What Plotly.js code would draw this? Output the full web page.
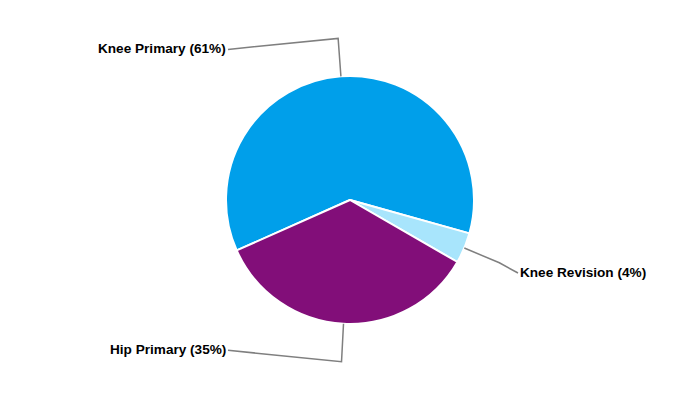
<!DOCTYPE html>
<html><head><meta charset="utf-8">
<script src="https://cdn.plot.ly/plotly-3.0.1.min.js"></script>
<style>html,body{margin:0;padding:0;background:#fff}#chart{width:700px;height:400px}</style>
</head><body><div id="chart"></div>
<script>
// ---- data ----
const categories = ['Knee Primary', 'Knee Revision', 'Hip Primary'];
const shares = [61, 4, 35];
const colors = ['#009fea', '#a8e5fc', '#820e79'];

// ---- layout constants ----
const W = 700, H = 400;
const CX = 350, CY = 200, R = 124;
const ROTATION = 246;          // degrees clockwise from 12 o'clock, start of first slice
const KNEE = 38;               // connector knee distance beyond the rim
const LABEL_R = 27;            // radial distance used for label vertical placement
const LEFT_X = CX - 122, RIGHT_X = CX + 168;
const labelNudgeY = {'Knee Revision': 14.5, 'Hip Primary': -0.5};

const px = x => x / W;
const py = y => 1 - y / H;

const total = shares.reduce((a, b) => a + b, 0);
let ang = ROTATION;
const shapes = [], annotations = [];
categories.forEach((name, i) => {
  const span = 360 * shares[i] / total;
  const mid = (ang + span / 2) * Math.PI / 180;
  ang += span;
  const s = Math.sin(mid), c = Math.cos(mid);
  const ex = CX + R * s, ey = CY - R * c;
  const kx = CX + (R + KNEE) * s, ky = CY - (R + KNEE) * c;
  const left = s < 0;
  const lx = left ? LEFT_X : RIGHT_X;
  const ly = CY - (R + LABEL_R) * c + (labelNudgeY[name] || 0);
  shapes.push({
    type: 'path', xref: 'paper', yref: 'paper',
    path: `M ${px(ex)} ${py(ey)} L ${px(kx)} ${py(ky)} L ${px(lx)} ${py(ly)}`,
    line: {color: '#7f7f7f', width: 1.5}
  });
  annotations.push({
    xref: 'paper', yref: 'paper', x: px(lx), y: py(ly - 0.5),
    xanchor: left ? 'right' : 'left', yanchor: 'middle',
    showarrow: false,
    text: `<b>${name} (${Math.round(100 * shares[i] / total)}%)</b>`,
    font: {family: 'Liberation Sans, Arial, sans-serif', size: 13.6, color: '#000'}
  });
});

const trace = {
  type: 'pie',
  labels: categories,
  values: shares,
  sort: false,
  direction: 'clockwise',
  rotation: ROTATION,
  textinfo: 'none',
  hoverinfo: 'label+percent',
  marker: {colors: colors, line: {color: '#ffffff', width: 2}},
  domain: {x: [0, 1], y: [(H - CY - R) / H, (H - CY + R) / H]},
  showlegend: false
};

Plotly.newPlot('chart', [trace], {
  width: W, height: H,
  margin: {l: 0, r: 0, t: 0, b: 0},
  paper_bgcolor: '#fff', plot_bgcolor: '#fff',
  showlegend: false,
  shapes: shapes,
  annotations: annotations
}, {displayModeBar: false, staticPlot: true});
</script>
</body></html>
